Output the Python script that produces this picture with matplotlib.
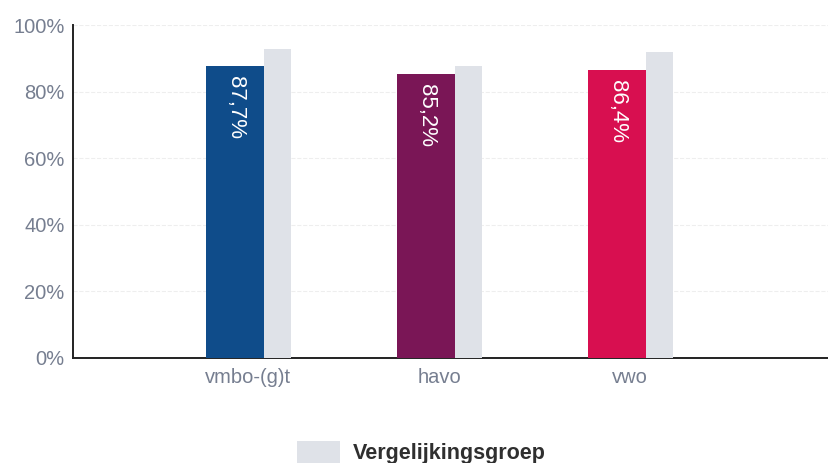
import matplotlib.pyplot as plt
import numpy as np
from matplotlib.patches import Patch

plt.rcParams['font.family'] = ['Liberation Sans', 'DejaVu Sans']

# data
categories = ["vmbo-(g)t", "havo", "vwo"]
school = [87.7, 85.2, 86.4]
labels = ["87,7%", "85,2%", "86,4%"]
vergelijking = [92.8, 87.7, 91.9]
colors = ["#0f4c8a", "#7a1656", "#d80f50"]
grey = "#dfe2e8"

fig = plt.figure(figsize=(8.29, 4.63), dpi=100)
ax = fig.add_axes([0.088, 0.227, 0.912, 0.719])

x = np.arange(len(categories))
ax.bar(x - 0.068, school, width=0.304, color=colors, zorder=3)
ax.bar(x + 0.155, vergelijking, width=0.142, color=grey, zorder=3)

for i in range(len(categories)):
    ax.text(x[i] - 0.068, school[i] - 3.0, labels[i], rotation=-90, ha="center", va="top",
            color="white", fontsize=16, zorder=4)

ax.set_ylim(0, 100)
ax.set_xlim(-0.916, 3.04)
ax.set_yticks([0, 20, 40, 60, 80, 100])
ax.set_yticklabels(["0%", "20%", "40%", "60%", "80%", "100%"])
ax.set_xticks(x)
ax.set_xticklabels(categories)
ax.tick_params(axis="both", length=0, labelsize=14.5, labelcolor="#767e90")
ax.tick_params(axis="x", pad=7)
ax.tick_params(axis="y", pad=6)
ax.yaxis.grid(True, color="#eeeeee", linestyle="--", linewidth=0.8, zorder=0)

for s in ["top", "right"]:
    ax.spines[s].set_visible(False)
ax.spines["left"].set_color("#222222")
ax.spines["bottom"].set_color("#222222")
ax.spines["left"].set_linewidth(1.4)
ax.spines["bottom"].set_linewidth(1.4)

fig.legend(handles=[Patch(facecolor=grey, label="Vergelijkingsgroep")],
           loc="center", bbox_to_anchor=(0.508, 0.022), frameon=False,
           handlelength=2.0, handleheight=1.2, handletextpad=0.6,
           prop={"size": 15.5, "weight": "bold"}, labelcolor="#2f2f2f")

plt.savefig("out.png", dpi=100)
